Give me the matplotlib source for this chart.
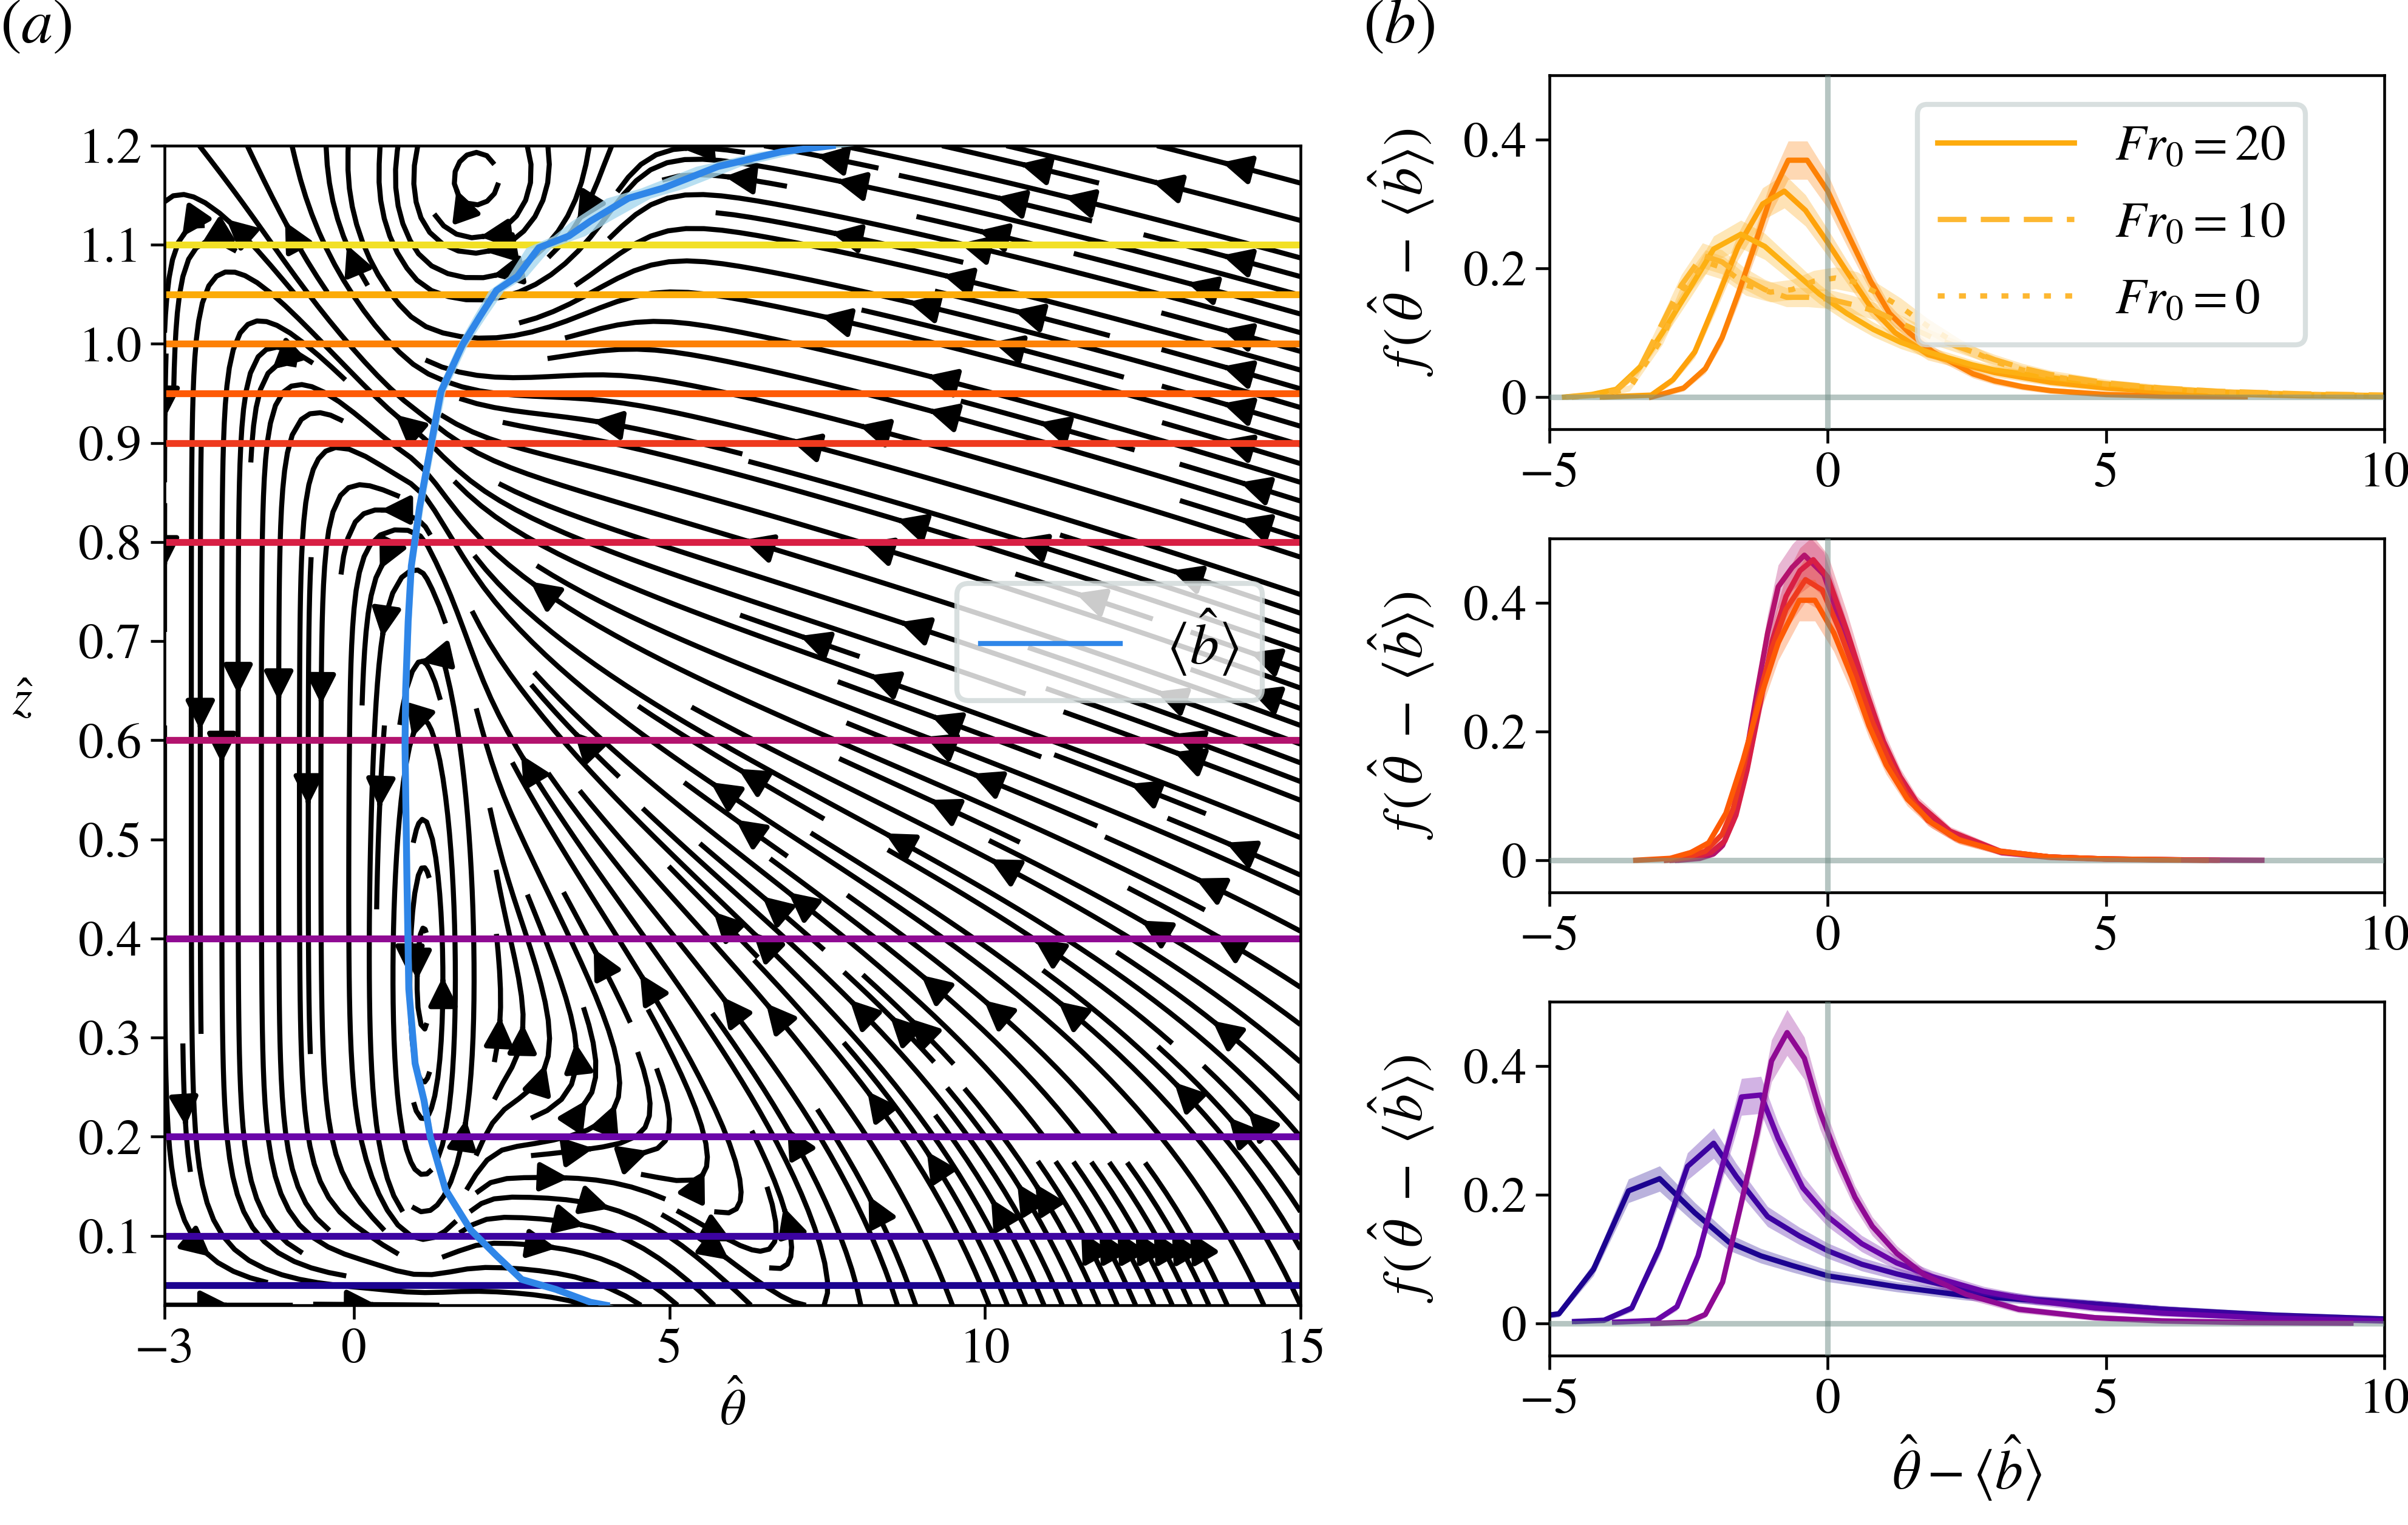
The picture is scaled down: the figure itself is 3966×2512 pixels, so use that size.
import numpy as np
import matplotlib
matplotlib.use("Agg")
import matplotlib.pyplot as plt
from matplotlib.lines import Line2D

plt.rcParams['font.family'] = ['STIXGeneral', 'DejaVu Sans']
plt.rcParams['mathtext.fontset'] = 'stix'
plt.rcParams['font.size'] = 20
plt.rcParams['axes.linewidth'] = 1.1
plt.rcParams['xtick.major.width'] = 1.1
plt.rcParams['ytick.major.width'] = 1.1
plt.rcParams['xtick.major.size'] = 5.5
plt.rcParams['ytick.major.size'] = 5.5

# ---- panel (a): levels, colours, mean buoyancy profile ----
levels_z = [0.05, 0.1, 0.2, 0.4, 0.6, 0.8, 0.9, 0.95, 1.0, 1.05, 1.1]
level_colors = ['#1c0390', '#3c03a0', '#6a05a8', '#8f0a93', '#b3136e', '#d81f44',
                '#ee3a1e', '#fe5a05', '#fd8106', '#fcab08', '#f2e026']

b_theta = [4.0, 3.75, 3.2, 2.66, 2.26, 1.85, 1.45, 1.21, 1.11, 0.97, 0.87, 0.84, 0.81,
           0.82, 0.86, 0.91, 1.04, 1.21, 1.38, 1.72, 1.99, 2.26, 2.59, 2.93, 3.41, 3.75,
           4.35, 4.89, 5.77, 6.78, 7.58]
b_z = [0.03, 0.033, 0.046, 0.056, 0.08, 0.106, 0.147, 0.2, 0.237, 0.274, 0.349, 0.462,
       0.594, 0.65, 0.72, 0.776, 0.835, 0.894, 0.952, 0.999, 1.027, 1.054, 1.068, 1.097,
       1.109, 1.124, 1.147, 1.157, 1.179, 1.194, 1.2]
b_spread = [0.12, 0.1, 0.08, 0.07, 0.06, 0.06, 0.05, 0.05, 0.05, 0.05, 0.05, 0.05, 0.05,
            0.05, 0.05, 0.05, 0.06, 0.06, 0.07, 0.08, 0.1, 0.12, 0.15, 0.2, 0.25, 0.3,
            0.35, 0.35, 0.35, 0.35, 0.35]

# stream function shape of the phase-space flow (theta, z)
gyre_theta, gyre_z = 1.1, 0.35
sep_z = 0.91
outflow_theta = 4.5
upper_start_theta = 0.6
vortex_theta, vortex_z = 1.9, 1.15
cell_amp, upper_amp, vortex_amp = 0.6, 4.0, 2.0

# ---- panel (b): pdfs f(theta - <b>) ----
# top: upper levels, Fr0 = 20 / 10 / 0
top_x1 = [-3.17, -2.59, -2.2, -1.9, -1.61, -1.32, -1.03, -0.71, -0.37, 0.0, 0.38, 0.77,
          1.11, 1.46, 1.89, 2.61, 3.0, 3.5, 4.0, 5.0, 6.0, 7.5]
top_f1 = [0.0, 0.014, 0.044, 0.092, 0.16, 0.234, 0.31, 0.368, 0.368, 0.32, 0.25, 0.18,
          0.13, 0.10, 0.07, 0.036, 0.025, 0.016, 0.01, 0.004, 0.0015, 0.0005]
top_x2 = [-4.05, -3.17, -2.78, -2.39, -2.05, -1.61, -1.17, -0.78, -0.4, 0.0, 0.38, 0.77,
          1.21, 1.8, 2.6, 3.0, 4.0, 5.0, 6.0, 7.0, 8.5, 10.0]
top_f2 = [0.0, 0.003, 0.027, 0.07, 0.14, 0.234, 0.30, 0.32, 0.29, 0.24, 0.19, 0.14,
          0.10, 0.066, 0.047, 0.038, 0.023, 0.014, 0.008, 0.005, 0.002, 0.001]
top_x3 = [-4.73, -4.24, -3.8, -3.37, -2.97, -2.49, -2.05, -1.56, -1.13, -0.64, -0.15, 0.34,
          0.82, 1.31, 1.8, 2.6, 3.0, 4.0, 5.0, 6.0, 7.0, 8.5, 10.0]
top_f3 = [0.0, 0.004, 0.012, 0.047, 0.10, 0.167, 0.23, 0.253, 0.234, 0.197, 0.16, 0.13,
          0.105, 0.085, 0.07, 0.05, 0.042, 0.03, 0.02, 0.013, 0.008, 0.004, 0.002]
top_x4 = [-4.7, -4.2, -3.8, -3.41, -2.97, -2.63, -2.25, -1.9, -1.51, -1.13, -0.74, -0.35,
          0.04, 0.43, 0.87, 1.31, 1.89, 2.38, 3.0, 3.5, 4.0, 5.0, 6.0, 7.0, 8.5, 10.0]
top_f4 = [0.0, 0.003, 0.01, 0.04, 0.115, 0.174, 0.22, 0.21, 0.185, 0.167, 0.155, 0.155,
          0.152, 0.144, 0.133, 0.115, 0.092, 0.077, 0.058, 0.045, 0.035, 0.022, 0.014,
          0.009, 0.005, 0.003]
top_x5 = [-4.6, -4.0, -3.56, -2.97, -2.59, -2.2, -1.86, -1.47, -1.03, -0.64, -0.25, 0.14,
          0.53, 0.92, 1.31, 1.8, 2.38, 3.0, 3.5, 4.0, 5.0, 6.0, 7.0, 8.5, 10.0]
top_f5 = [0.0, 0.004, 0.014, 0.092, 0.167, 0.21, 0.2, 0.174, 0.163, 0.167, 0.18, 0.185,
          0.178, 0.16, 0.14, 0.11, 0.08, 0.055, 0.042, 0.032, 0.02, 0.013, 0.008, 0.004,
          0.002]
top_colors = ['#fd8106', '#fea20a', '#fdb012', '#fdb52a', '#fdb52a']
top_styles = ['-', '-', '-', (0, (5.4, 2.7)), (0, (1.3, 2.7))]

# middle: z = 0.6, 0.8, 0.9, 0.95
mid_x1 = [-2.7, -2.3, -2.05, -1.89, -1.7, -1.52, -1.27, -1.08, -0.89, -0.64, -0.42, -0.07,
          0.3, 0.61, 0.93, 1.24, 1.55, 2.18, 3.12, 4.0, 5.0, 6.5, 7.8]
mid_f1 = [0.0, 0.003, 0.01, 0.023, 0.061, 0.137, 0.262, 0.353, 0.425, 0.455, 0.474, 0.444,
          0.353, 0.27, 0.186, 0.133, 0.088, 0.042, 0.012, 0.005, 0.002, 0.0005, 0.0]
mid_x2 = [-2.8, -2.4, -2.1, -1.85, -1.65, -1.45, -1.2, -1.0, -0.75, -0.5, -0.26, 0.0, 0.35,
          0.7, 1.0, 1.3, 1.6, 2.2, 3.1, 4.0, 5.0, 7.0]
mid_f2 = [0.0, 0.004, 0.012, 0.03, 0.07, 0.14, 0.25, 0.34, 0.41, 0.45, 0.467, 0.44, 0.355,
          0.26, 0.185, 0.13, 0.09, 0.045, 0.014, 0.005, 0.002, 0.0]
mid_x3 = [-2.9, -2.5, -2.2, -1.9, -1.7, -1.5, -1.25, -1.0, -0.75, -0.4, -0.1, 0.2, 0.5, 0.8,
          1.1, 1.4, 1.8, 2.3, 3.1, 4.0, 5.0, 6.8]
mid_f3 = [0.0, 0.005, 0.014, 0.04, 0.08, 0.15, 0.25, 0.33, 0.39, 0.436, 0.42, 0.36, 0.29,
          0.215, 0.155, 0.105, 0.062, 0.034, 0.013, 0.005, 0.002, 0.0]
mid_x4 = [-3.45, -2.83, -2.46, -2.14, -1.83, -1.52, -1.2, -0.89, -0.51, -0.23, 0.11, 0.43,
          0.74, 1.05, 1.43, 1.87, 2.37, 3.1, 4.0, 5.0, 6.3]
mid_f4 = [0.0, 0.003, 0.012, 0.027, 0.073, 0.156, 0.255, 0.338, 0.404, 0.404, 0.353, 0.285,
          0.209, 0.148, 0.095, 0.058, 0.031, 0.014, 0.005, 0.002, 0.0005]
mid_colors = ['#b3136e', '#d81f44', '#ee3a1e', '#fe5a05']

# bottom: z = 0.05, 0.1, 0.2, 0.4
bot_x1 = [-5.0, -4.83, -4.21, -3.58, -3.02, -2.39, -1.77, -1.2, -0.64, 0.0, 1.24, 2.49,
          3.74, 4.8, 6.0, 8.0, 10.0]
bot_f1 = [0.013, 0.015, 0.084, 0.206, 0.225, 0.172, 0.126, 0.105, 0.09, 0.074, 0.057, 0.043,
          0.036, 0.03, 0.022, 0.013, 0.007]
bot_x2 = [-4.55, -4.02, -3.52, -3.02, -2.52, -2.05, -1.64, -1.08, -0.51, 0.0, 0.61, 1.24,
          1.87, 2.8, 3.74, 4.8, 6.0, 8.0, 10.0]
bot_f2 = [0.003, 0.005, 0.024, 0.118, 0.244, 0.28, 0.228, 0.166, 0.136, 0.113, 0.092, 0.077,
          0.064, 0.047, 0.037, 0.03, 0.022, 0.012, 0.006]
bot_x3 = [-3.83, -3.08, -2.71, -2.33, -1.95, -1.55, -1.2, -0.89, -0.45, 0.0, 0.61, 1.24,
          1.87, 2.8, 3.74, 4.8, 6.0, 8.0, 10.0]
bot_f3 = [0.002, 0.005, 0.026, 0.105, 0.227, 0.352, 0.355, 0.287, 0.211, 0.166, 0.124, 0.094,
          0.073, 0.05, 0.035, 0.024, 0.016, 0.008, 0.004]
bot_x4 = [-3.14, -2.52, -2.2, -1.89, -1.58, -1.27, -1.01, -0.73, -0.42, -0.14, 0.18, 0.49,
          0.8, 1.24, 1.74, 2.49, 3.43, 4.8, 6.0, 7.5, 9.4]
bot_f4 = [0.0, 0.002, 0.014, 0.064, 0.177, 0.295, 0.408, 0.452, 0.412, 0.329, 0.257, 0.196,
          0.151, 0.109, 0.075, 0.045, 0.022, 0.009, 0.004, 0.0015, 0.0005]
bot_colors = ['#1c0390', '#3c03a0', '#6a05a8', '#8f0a93']

band_rel, band_abs = 0.07, 0.004


def make_flow():
    theta = np.linspace(-3, 15, 260)
    z = np.linspace(0.03, 1.2, 220)
    xn = (theta + 3) / 18.0
    yn = (z - 0.03) / 1.17
    X, Y = np.meshgrid(xn, yn)
    x0 = (gyre_theta + 3) / 18.0
    y0 = (gyre_z - 0.03) / 1.17
    yt0 = (sep_z - 0.03) / 1.17
    xs = (outflow_theta + 3) / 18.0
    xu = (upper_start_theta + 3) / 18.0
    xv = (vortex_theta + 3) / 18.0
    yv = (vortex_z - 0.03) / 1.17

    dx = X - x0
    # separatrix: slowly sinking to the right, rising to the top on the left
    yt = yt0 - 0.08 * dx + 1.2 * 0.04 * np.logaddexp(0, -dx / 0.04)
    # recirculating gyre, open through the bottom to the right of the outflow
    b = 0.1 + 0.35 * (1 - np.exp(-np.clip(dx, 0, None) / 0.25))
    s = 0.5 * (1 + np.tanh((X - xs) / 0.08))
    wall = 1 - np.exp(-Y / 0.05)
    bottom = 1 - (1 - s) * np.exp(-Y / 0.05)
    g = np.where(dx < 0, np.exp(-(dx / 0.17) ** 2), 1 / (1 + (dx / 1.2) ** 2))
    psi = g * bottom * np.tanh((yt - Y) / b)
    # narrow core of the gyre
    psi += cell_amp * wall * np.exp(-(dx / 0.03) ** 2 - ((Y - y0) / 0.25) ** 2)
    # upper flow towards smaller theta
    yu = yt0 - 0.4 * dx
    w = 0.05
    on = 0.5 * (1 + np.tanh((X - xu) / 0.04))
    psi -= upper_amp * on * w * np.logaddexp(0, (Y - yu) / w)
    # vortex at the top
    psi -= vortex_amp * np.exp(-((X - xv) / 0.09) ** 2 - ((Y - yv) / 0.1) ** 2)

    dpsi_dy, dpsi_dx = np.gradient(psi, yn, xn)
    u = 18.0 * dpsi_dy
    v = -1.17 * dpsi_dx
    return theta, z, u, v


W, H, DPI = 3966, 2512, 300
fig = plt.figure(figsize=(W / DPI, H / DPI), dpi=DPI)

# ---------------- panel (a) ----------------
ax = fig.add_axes([271 / W, 1 - 2150 / H, 1871 / W, 1910 / H])
th, zz, u, v = make_flow()
ax.streamplot(th, zz, u, v, density=2.1, color='k', linewidth=2.0,
              arrowsize=2.4, arrowstyle='-|>', zorder=1)
for zl, c in zip(levels_z, level_colors):
    ax.axhline(zl, color=c, lw=2.7, zorder=2)
bt = np.array(b_theta)
bs = np.array(b_spread)
ax.fill_betweenx(b_z, bt - bs, bt + bs, color='#a6d8ee', alpha=0.8, lw=0, zorder=3)
ax.plot(b_theta, b_z, color='#2f86e8', lw=2.7, zorder=4)
ax.set_xlim(-3, 15)
ax.set_ylim(0.03, 1.2)
ax.set_xticks([-3, 0, 5, 10, 15])
ax.set_yticks(np.round(np.arange(0.1, 1.21, 0.1), 1))
ax.set_xlabel(r'$\hat{\theta}$')
ax.set_ylabel(r'$\hat{z}$', rotation=0)
ax.yaxis.set_label_coords(-0.125, 0.5)
leg = ax.legend(handles=[Line2D([], [], color='#2f86e8', lw=2.0)],
                labels=[r'$\langle\hat{b}\rangle$'], loc='center',
                bbox_to_anchor=(0.832, 0.572), handlelength=2.4, fontsize=23,
                framealpha=0.8, borderpad=0.4)
leg.get_frame().set_edgecolor('#cfd8d8')
leg.get_frame().set_linewidth(2.0)

# ---------------- panel (b) ----------------
panel_bottoms = [1 - 707 / H, 1 - 1470 / H, 1 - 2233 / H]
panel_h = 583 / H
panels = [
    (list(zip([top_x1, top_x2, top_x3, top_x4, top_x5],
              [top_f1, top_f2, top_f3, top_f4, top_f5])), top_colors, top_styles),
    (list(zip([mid_x1, mid_x2, mid_x3, mid_x4], [mid_f1, mid_f2, mid_f3, mid_f4])),
     mid_colors, ['-'] * 4),
    (list(zip([bot_x1, bot_x2, bot_x3, bot_x4], [bot_f1, bot_f2, bot_f3, bot_f4])),
     bot_colors, ['-'] * 4),
]
rax = []
for pb, (curves, cols, styles) in zip(panel_bottoms, panels):
    a = fig.add_axes([2552 / W, pb, 1375 / W, panel_h])
    for (x, f), c, ls in zip(curves, cols, styles):
        x = np.array(x)
        f = np.array(f)
        e = band_rel * f + band_abs
        a.fill_between(x, f - e, f + e, color=c, alpha=0.3, lw=0, zorder=1)
        a.plot(x, f, color=c, lw=2.1, ls=ls, zorder=2)
    a.axvline(0, color='#6f8c86', alpha=0.5, lw=2.2, zorder=3)
    a.axhline(0, color='#6f8c86', alpha=0.5, lw=2.2, zorder=3)
    a.set_xlim(-5, 10)
    a.set_ylim(-0.05, 0.5)
    a.set_xticks([-5, 0, 5, 10])
    a.set_yticks([0, 0.2, 0.4])
    a.set_yticklabels(['0', '0.2', '0.4'])
    a.set_ylabel(r'$f\,(\,\hat{\theta}\;-\;\langle\hat{b}\rangle)$', fontsize=22)
    a.yaxis.set_label_coords(-0.136, 0.5)
    rax.append(a)

rax[2].set_xlabel(r'$\hat{\theta} - \langle\hat{b}\rangle$', fontsize=22)
leg_c = '#fdab0d'
handles = [Line2D([], [], color=leg_c, lw=2.1),
           Line2D([], [], color=leg_c, lw=2.1, ls=(0, (5.4, 2.7)), alpha=0.85),
           Line2D([], [], color=leg_c, lw=2.1, ls=(0, (1.3, 2.7)), alpha=0.85)]
leg2 = rax[0].legend(handles, [r'$Fr_0 = 20$', r'$Fr_0 = 10$', r'$Fr_0 = 0$'],
                     loc='center', bbox_to_anchor=(0.673, 0.578), handlelength=2.7,
                     labelspacing=0.6, framealpha=0.8, fontsize=20)
leg2.get_frame().set_edgecolor('#cfd8d8')
leg2.get_frame().set_linewidth(2.0)

fig.text(0.0, 0.982, r'$(a)$', fontsize=25, va='center', ha='left')
fig.text(0.566, 0.982, r'$(b)$', fontsize=25, va='center', ha='left')

fig.savefig('out.png', dpi=DPI)
